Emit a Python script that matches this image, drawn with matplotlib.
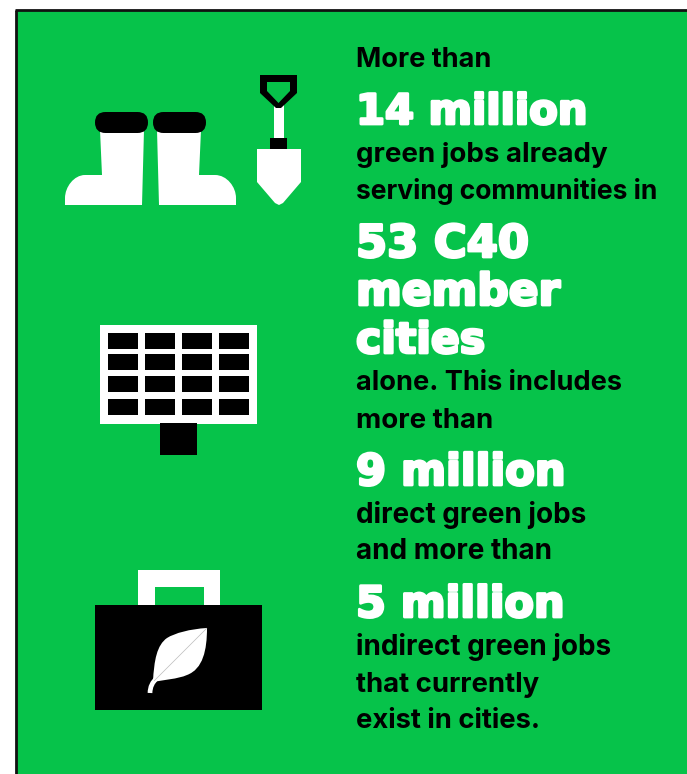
import matplotlib
matplotlib.use("Agg")
import matplotlib.pyplot as plt
from matplotlib.patches import Rectangle, Polygon, FancyBboxPatch, PathPatch
from matplotlib.path import Path
import matplotlib.patheffects as pe

GREEN = "#06c34a"

# text lines: label, baseline y, right edge x
small_lines = [
    ("More than", 67, 491),
    ("green jobs already", 162, 607),
    ("serving communities in", 199, 658),
    ("alone. This includes", 390, 621),
    ("more than", 428, 493),
    ("direct green jobs", 523, 586),
    ("and more than", 559, 552),
    ("indirect green jobs", 655, 611),
    ("that currently", 692, 539),
    ("exist in cities.", 728, 540),
]
big_lines = [
    ("14 million", 124, 587),
    ("53 C40", 257, 529),
    ("member", 305, 560),
    ("cities", 353, 485),
    ("9 million", 485, 565),
    ("5 million", 617, 564),
]

fig = plt.figure(figsize=(6.87, 7.74), dpi=100, facecolor="white")
ax = fig.add_axes([0, 0, 1, 1])
ax.set_xlim(0, 687)
ax.set_ylim(774, 0)
ax.axis("off")


def box(x0, y0, x1, y1, color, z=2):
    ax.add_patch(Rectangle((x0, y0), x1 - x0, y1 - y0, fc=color, ec="none", zorder=z))


def round_box(x0, y0, x1, y1, r, color, z=3):
    ax.add_patch(FancyBboxPatch((x0 + r, y0 + r), x1 - x0 - 2 * r, y1 - y0 - 2 * r,
                                boxstyle="round,pad=%s,rounding_size=%s" % (r, r),
                                fc=color, ec="none", zorder=z))


def fit_text(t, x0, x1):
    # scale the font so the line ends where it does in the reference
    width = t.get_window_extent(fig.canvas.get_renderer()).width
    t.set_fontsize(t.get_fontsize() * (x1 - x0) / width)


# background and frame
box(16, 10, 700, 790, GREEN, 1)
ax.plot([16, 16], [790, 10], color="#111111", lw=2.0, zorder=2, solid_capstyle="butt")
ax.plot([15, 700], [10, 10], color="#111111", lw=2.0, zorder=2, solid_capstyle="butt")

# boots
left_boot = Path(
    [(100, 130), (102, 175), (85, 175), (74, 175), (65, 187), (65, 198), (65, 205),
     (142, 205), (144, 130), (100, 130)],
    [Path.MOVETO, Path.LINETO, Path.LINETO, Path.CURVE4, Path.CURVE4, Path.CURVE4,
     Path.LINETO, Path.LINETO, Path.LINETO, Path.CLOSEPOLY])
right_boot = Path(
    [(157, 130), (159, 205), (236, 205), (236, 198), (236, 187), (227, 175), (215, 175),
     (199, 175), (201, 130), (157, 130)],
    [Path.MOVETO, Path.LINETO, Path.LINETO, Path.LINETO, Path.CURVE4, Path.CURVE4,
     Path.CURVE4, Path.LINETO, Path.LINETO, Path.CLOSEPOLY])
ax.add_patch(PathPatch(left_boot, fc="white", ec="none", zorder=2))
ax.add_patch(PathPatch(right_boot, fc="white", ec="none", zorder=2))
round_box(95, 112, 148, 133, 10.5, "black")
round_box(153, 112, 206, 133, 10.5, "black")

# shovel
box(274, 104, 284, 140, "white")
handle_out = [(260, 75), (297, 75), (297, 93), (281, 108), (276, 108), (260, 93)]
handle_in = [(267, 82), (290, 82), (290, 91), (278.5, 103), (267, 91)]
ax.add_patch(Polygon(handle_out, fc="black", ec="none", zorder=3))
ax.add_patch(Polygon(handle_in, fc=GREEN, ec="none", zorder=4))
box(270, 138, 287, 149, "black", 3)
blade = [(257, 149), (301, 149), (301, 182), (283, 203), (279, 205), (275, 203), (257, 182)]
ax.add_patch(Polygon(blade, fc="white", ec="none", zorder=2))

# solar panel
box(100, 325, 257, 424, "white")
box(160, 423, 197, 455, "black")
cell_x = [108, 145, 182, 219]
cell_y = [333, 354, 376, 399]
for cx in cell_x:
    for cy in cell_y:
        box(cx, cy, cx + 30, cy + 16, "black", 3)

# briefcase
box(138, 570, 220, 610, "white")
box(155, 587, 204, 610, GREEN, 3)
box(95, 605, 262, 710, "black", 4)
leaf = Path(
    [(207, 628), (190, 629), (175, 633), (167, 638), (157, 645), (154, 660), (153, 682),
     (163, 680), (178, 679), (187, 675), (203, 669), (207, 650), (207, 628)],
    [Path.MOVETO] + [Path.CURVE4] * 12)
ax.add_patch(PathPatch(leaf, fc="white", ec="none", zorder=5))
vein = Path([(207, 628), (154, 681)], [Path.MOVETO, Path.LINETO])
ax.add_patch(PathPatch(vein, fc="none", ec="#bbbbbb", lw=0.5, zorder=6))
stalk = Path([(157, 678), (150, 684), (150, 693)], [Path.MOVETO, Path.CURVE3, Path.CURVE3])
ax.add_patch(PathPatch(stalk, fc="none", ec="white", lw=3.4, zorder=5))

# text
for label, y, right in small_lines:
    t = ax.text(356, y, label, fontsize=19, fontweight="bold", family="Inter",
                color="black", va="baseline", ha="left", zorder=5)
    fit_text(t, 356, right)
for label, y, right in big_lines:
    t = ax.text(356, y, label, fontsize=31.5, fontweight="bold", family="DejaVu Sans",
                color="white", va="baseline", ha="left", zorder=5)
    fit_text(t, 356, right)
    t.set_path_effects([pe.withStroke(linewidth=2.0, foreground="white")])

fig.savefig("out.png", dpi=100, facecolor="white")
